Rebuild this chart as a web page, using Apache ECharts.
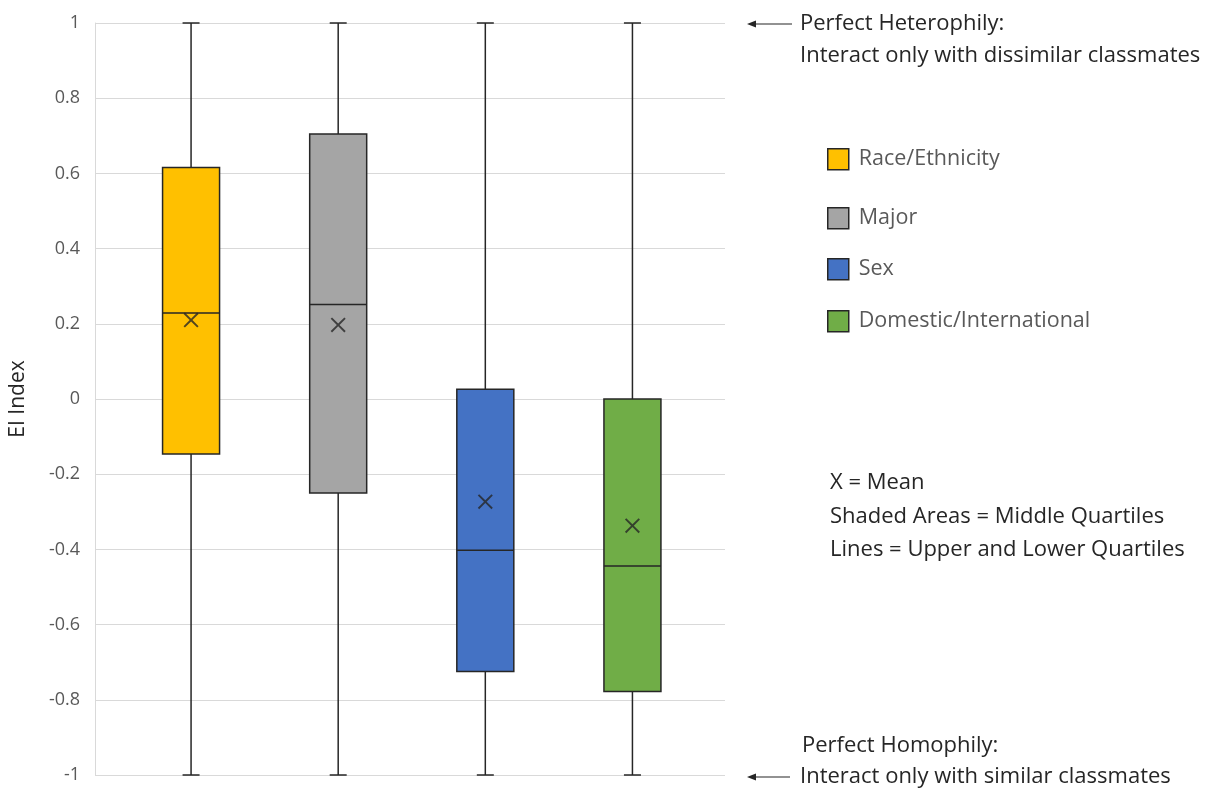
<!DOCTYPE html>
<html>
<head>
<meta charset="utf-8">
<script src="https://cdn.jsdelivr.net/npm/echarts@6/dist/echarts.min.js"></script>
<style>html,body{margin:0;padding:0;background:#fff}#c{width:1209px;height:789px}</style>
</head>
<body>
<div id="c"></div>
<script>
// ---- data ----
const categories = ['Race/Ethnicity', 'Major', 'Sex', 'Domestic/International'];
const whiskerMin = [-1, -1, -1, -1];
const q1 = [-0.146, -0.25, -0.725, -0.778];
const median = [0.229, 0.251, -0.402, -0.444];
const q3 = [0.616, 0.705, 0.026, 0.0];
const whiskerMax = [1, 1, 1, 1];
const means = [0.21, 0.197, -0.273, -0.337];
const colors = ['#FFC000', '#A5A5A5', '#4472C4', '#70AD47'];
const yTicks = [-1, -0.8, -0.6, -0.4, -0.2, 0, 0.2, 0.4, 0.6, 0.8, 1];

const FONT = '"Open Sans", "Noto Sans", sans-serif';
const chart = echarts.init(document.getElementById('c'), null, {renderer: 'canvas'});

const boxRows = categories.map((c, i) => [i, whiskerMin[i], q1[i], median[i], q3[i], whiskerMax[i]]);

const BOX_W = 57, CAP_W = 17, STROKE = '#262626';
function renderBox(params, api) {
  const i = api.value(0);
  const pMin = api.coord([i, api.value(1)]);
  const pQ1 = api.coord([i, api.value(2)]);
  const pMed = api.coord([i, api.value(3)]);
  const pQ3 = api.coord([i, api.value(4)]);
  const pMax = api.coord([i, api.value(5)]);
  const x = pMin[0];
  const ls = {stroke: STROKE, lineWidth: 1.5};
  return {
    type: 'group',
    children: [
      {type: 'line', shape: {x1: x, y1: pMax[1], x2: x, y2: pQ3[1]}, style: ls},
      {type: 'line', shape: {x1: x, y1: pQ1[1], x2: x, y2: pMin[1]}, style: ls},
      {type: 'line', shape: {x1: x - CAP_W / 2, y1: pMax[1], x2: x + CAP_W / 2, y2: pMax[1]}, style: ls},
      {type: 'line', shape: {x1: x - CAP_W / 2, y1: pMin[1], x2: x + CAP_W / 2, y2: pMin[1]}, style: ls},
      {type: 'rect', shape: {x: x - BOX_W / 2, y: pQ3[1], width: BOX_W, height: pQ1[1] - pQ3[1]},
        style: {fill: colors[i], stroke: STROKE, lineWidth: 1.5}},
      {type: 'line', shape: {x1: x - BOX_W / 2, y1: pMed[1], x2: x + BOX_W / 2, y2: pMed[1]}, style: ls}
    ]
  };
}

const legendTops = [148, 207, 258, 310];
const legends = categories.map((c, i) => ({
  show: true,
  orient: 'vertical',
  left: 827, top: legendTops[i], padding: 0,
  itemWidth: 21, itemHeight: 21, itemGap: 0,
  icon: 'rect',
  selectedMode: false,
  data: [{name: c, itemStyle: {color: colors[i], opacity: 1, borderColor: '#262626', borderWidth: 1.5}}],
  textStyle: {fontFamily: FONT, fontSize: 21.5, color: '#595959', padding: [0, 0, 0, 5]}
}));

const xPath = 'path://M0,0.9 L0.9,0 L5,4.1 L9.1,0 L10,0.9 L5.9,5 L10,9.1 L9.1,10 L5,5.9 L0.9,10 L0,9.1 L4.1,5 Z';

function arrow(x1, x2, y) {
  return [
    {type: 'line', shape: {x1: x1, y1: y, x2: x2 + 6, y2: y}, style: {stroke: '#262626', lineWidth: 1.2}},
    {type: 'polygon', shape: {points: [[x2, y], [x2 + 9, y - 3.5], [x2 + 9, y + 3.5]]}, style: {fill: '#262626'}}
  ];
}
const txt = (x, y, t) => ({type: 'text', x: x, y: y, style: {text: t, font: '22px ' + FONT, fill: '#262626', textVerticalAlign: 'middle'}});

const option = {
  backgroundColor: '#ffffff',
  animation: false,
  legend: legends,
  grid: [
    {left: 117.5, right: 1209 - 706, top: 23, bottom: 14},
    {left: 95, right: 1209 - 725, top: 23, bottom: 14}
  ],
  xAxis: [
    {type: 'category', gridIndex: 0, data: categories, show: false, boundaryGap: true},
    {type: 'category', gridIndex: 1, data: categories, show: false}
  ],
  yAxis: [
    {type: 'value', gridIndex: 0, min: -1, max: 1, interval: 0.2, show: false},
    {type: 'value', gridIndex: 1, min: -1, max: 1, interval: 0.2,
      name: 'EI Index', nameLocation: 'middle', nameGap: 66, nameRotate: 90,
      nameTextStyle: {fontFamily: FONT, fontSize: 21, color: '#262626'},
      axisLine: {show: true, lineStyle: {color: '#d9d9d9', width: 1}},
      axisTick: {show: false},
      axisLabel: {fontFamily: FONT, fontSize: 18, color: '#595959', margin: 15,
        formatter: v => { const t = yTicks.find(k => Math.abs(k - v) < 1e-6); return String(t !== undefined ? t : +v.toFixed(1)); }},
      splitLine: {show: true, lineStyle: {color: '#d9d9d9', width: 1}}
    }
  ],
  series: [
    {type: 'custom', xAxisIndex: 0, yAxisIndex: 0, data: boxRows, renderItem: renderBox, z: 3,
      encode: {x: 0, y: [1, 2, 3, 4, 5]}, clip: false},
    {type: 'scatter', xAxisIndex: 0, yAxisIndex: 0, data: means, symbol: xPath, symbolSize: 15, z: 5,
      itemStyle: {color: '#262626'}},
    ...categories.map((c, i) => ({type: 'scatter', name: c, xAxisIndex: 0, yAxisIndex: 0, data: [],
      itemStyle: {color: colors[i], borderColor: '#262626', borderWidth: 1.5}}))
  ],
  graphic: [
    ...arrow(792, 747, 24),
    txt(800, 24, 'Perfect Heterophily:'),
    txt(800, 56, 'Interact only with dissimilar classmates'),
    txt(830, 483, 'X = Mean'),
    txt(830, 517, 'Shaded Areas = Middle Quartiles'),
    txt(830, 550, 'Lines = Upper and Lower Quartiles'),
    txt(802, 746, 'Perfect Homophily:'),
    ...arrow(790, 747, 777),
    txt(800, 777, 'Interact only with similar classmates')
  ]
};
chart.setOption(option);
</script>
</body>
</html>
